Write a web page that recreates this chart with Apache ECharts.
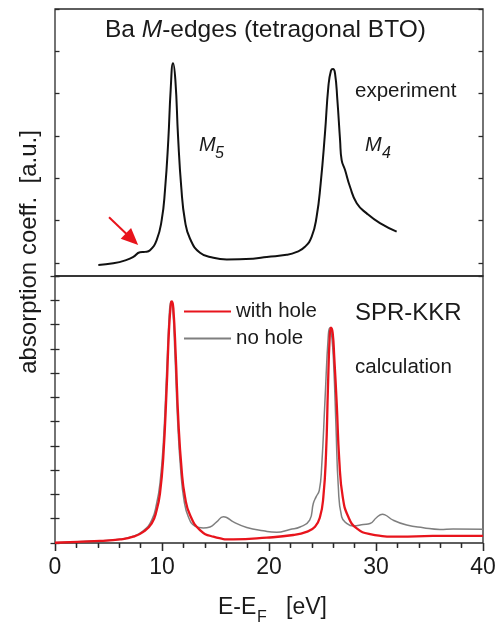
<!DOCTYPE html>
<html><head><meta charset="utf-8">
<script src="https://cdn.jsdelivr.net/npm/echarts@6/dist/echarts.min.js"></script>
<style>html,body{margin:0;padding:0;background:#fff}#c{width:499px;height:623px}</style>
</head><body><div id="c"></div>
<script>
// ---- data ----
const xTicks = [0, 10, 20, 30, 40];
const expX = [4.05,5.45,6.7,7.32,7.94,8.41,8.88,9.5,9.97,10.28,10.59,10.81,11.03,11.25,11.5,11.8,12.15,12.62,13.55,14.8,16.05,18.5,19.8,21.65,22.6,23.36,23.99,24.45,24.83,25.23,25.55,25.79,25.98,26.17,26.39,26.64,26.79,27.1,27.57,28.2,29.13,30.37,31.93];
const expY = [0.26,0.30,0.38,0.45,0.56,0.57,0.61,0.85,1.32,2.03,3.22,4.4,5.03,4.63,3.3,2.1,1.3,0.88,0.55,0.43,0.39,0.41,0.45,0.5,0.57,0.69,0.93,1.40,2.19,3.37,4.48,4.85,4.89,4.79,4.16,3.22,2.74,2.51,2.11,1.72,1.48,1.25,1.05];
const holeX = [0,4.2,6.07,7.32,8.25,9.04,9.5,9.81,10.12,10.44,10.65,10.84,10.93,11.06,11.28,11.53,11.84,12.15,12.62,13.55,14.8,16.67,19.8,22.27,23.5,24.3,24.77,25.08,25.33,25.51,25.67,25.79,25.95,26.1,26.33,26.57,26.89,27.41,28.2,29.44,32.2,35.3,40];
const holeY = [0.01,0.09,0.15,0.26,0.46,0.81,1.35,2.04,3.54,6.41,8.73,9.89,9.95,9.68,7.77,5.04,2.99,1.90,1.15,0.53,0.26,0.15,0.22,0.33,0.46,0.67,1.08,1.90,3.68,6.41,8.46,8.87,8.66,7.64,5.73,3.4,1.90,1.08,0.6,0.37,0.26,0.29,0.29];
const noHoleX = [0,4.2,6.07,7.32,8.25,9.04,9.5,9.81,10.12,10.44,10.68,10.84,11.0,11.21,11.46,11.75,12.06,12.46,13.08,13.86,14.49,15.11,15.73,16.04,16.67,17.92,19.47,20.72,21.96,22.9,23.8,24.14,24.4,24.7,24.92,25.23,25.55,25.7,25.85,26.05,26.26,26.48,26.79,27.26,27.88,28.82,29.44,30.06,30.6,30.84,31.6,32.87,34.42,35.98,37.2,40];
const noHoleY = [0.01,0.09,0.15,0.28,0.5,0.94,1.63,2.45,4.09,7.09,9.41,9.95,9.68,7.77,5.04,2.99,1.76,1.08,0.7,0.62,0.66,0.87,1.08,1.05,0.87,0.64,0.5,0.44,0.56,0.66,0.94,1.63,1.9,2.17,3.13,5.86,8.6,8.87,8.6,7.3,4.8,2.3,1.08,0.81,0.70,0.76,0.80,1.05,1.18,1.16,0.94,0.74,0.63,0.56,0.58,0.57];
const arrowFrom = [5.05, 1.39];
const arrowTo = [7.2, 0.87];
const seriesNames = ['experiment', 'with hole', 'no hole'];

const zip = (xs, ys) => xs.map((x, i) => [x, ys[i]]);
const FONT = 'Liberation Sans, Arial, Helvetica, sans-serif';
const INK = '#1a1a1a';
const AX = '#2a2a2a';
const RED = '#e8141c';
const GRAY = '#7f7f7f';

const tickStyle = {color: AX, width: 1.3};
function tickAxisY(grid, pos, max, inverse) {
  return {gridIndex: grid, type: 'value', position: pos, min: 0, max: max, interval: 1, inverse: inverse,
    axisLine: {show: false}, axisLabel: {show: false}, splitLine: {show: false},
    axisTick: {show: true, inside: true, length: 4.5, lineStyle: tickStyle}};
}

const chart = echarts.init(document.getElementById('c'), null, {renderer: 'canvas'});
chart.setOption({
  animation: false,
  backgroundColor: '#fff',
  grid: [
    {left: 55, top: 9, width: 428, height: 267, show: true, borderColor: AX, borderWidth: 1.3, backgroundColor: 'transparent'},
    {left: 55, top: 276, width: 428, height: 267, show: true, borderColor: AX, borderWidth: 1.3, backgroundColor: 'transparent'}
  ],
  xAxis: [
    {gridIndex: 0, type: 'value', min: 0, max: 40, show: false},
    {gridIndex: 1, type: 'value', min: 0, max: 40, interval: 10, position: 'bottom',
      axisLine: {show: false}, splitLine: {show: false},
      axisTick: {show: true, inside: false, length: 8, lineStyle: tickStyle},
      minorTick: {show: true, splitNumber: 5, length: 4.5, lineStyle: tickStyle},
      axisLabel: {fontSize: 23, color: INK, fontFamily: FONT, margin: 13,
        formatter: v => xTicks.includes(v) ? String(v) : ''}},
    {gridIndex: 1, type: 'value', min: 0, max: 40, interval: 10, position: 'top',
      axisLine: {show: false}, splitLine: {show: false}, axisLabel: {show: false},
      axisTick: {show: true, inside: true, length: 8, lineStyle: tickStyle},
      minorTick: {show: true, splitNumber: 5, length: 5, lineStyle: tickStyle}}
  ],
  yAxis: [
    {gridIndex: 0, type: 'value', min: 0, max: 6.31, show: false},
    tickAxisY(0, 'left', 6.31, true),
    tickAxisY(0, 'right', 6.31, true),
    tickAxisY(1, 'left', 11, false),
    tickAxisY(1, 'right', 11, false)
  ],
  legend: {
    data: [seriesNames[1], seriesNames[2]], orient: 'vertical', left: 184, top: 301, padding: 0,
    itemWidth: 47, itemHeight: 2, itemGap: 6, icon: 'rect',
    textStyle: {fontSize: 20.5, color: INK, fontFamily: FONT, lineHeight: 20}
  },
  series: [
    {name: seriesNames[0], type: 'line', xAxisIndex: 0, yAxisIndex: 0, data: zip(expX, expY),
      showSymbol: false, smooth: 0.5, lineStyle: {color: '#111', width: 2}, itemStyle: {color: '#111'},
      markLine: {silent: true, symbol: ['none', 'triangle'], symbolSize: [15, 17],
        lineStyle: {color: RED, width: 2, type: 'solid'}, itemStyle: {color: RED},
        label: {show: false}, emphasis: {disabled: true},
        data: [[{coord: arrowFrom}, {coord: arrowTo}]]}},
    {name: seriesNames[2], type: 'line', xAxisIndex: 1, yAxisIndex: 3, data: zip(noHoleX, noHoleY),
      showSymbol: false, smooth: 0.5, lineStyle: {color: GRAY, width: 1.5}, itemStyle: {color: GRAY}, z: 2},
    {name: seriesNames[1], type: 'line', xAxisIndex: 1, yAxisIndex: 3, data: zip(holeX, holeY),
      showSymbol: false, smooth: 0.5, lineStyle: {color: RED, width: 2.3}, itemStyle: {color: RED}, z: 3}
  ],
  graphic: [
    {type: 'text', left: 105, top: 18, style: {text: '{a|Ba }{b|M}{a|-edges (tetragonal BTO)}',
      rich: {a: {fontSize: 24.5, fontFamily: FONT, fill: INK}, b: {fontSize: 24.5, fontFamily: FONT, fill: INK, fontStyle: 'italic'}}}},
    {type: 'text', x: 355, y: 91, style: {text: 'experiment', font: '20.5px ' + FONT, fill: INK, verticalAlign: 'middle'}},
    {type: 'text', x: 199, y: 145, style: {text: 'M', font: 'italic 20px ' + FONT, fill: INK, verticalAlign: 'middle'}},
    {type: 'text', x: 215, y: 154, style: {text: '5', font: 'italic 16px ' + FONT, fill: INK, verticalAlign: 'middle'}},
    {type: 'text', x: 365, y: 145, style: {text: 'M', font: 'italic 20px ' + FONT, fill: INK, verticalAlign: 'middle'}},
    {type: 'text', x: 382, y: 154, style: {text: '4', font: 'italic 16px ' + FONT, fill: INK, verticalAlign: 'middle'}},
    {type: 'text', x: 355, y: 313, style: {text: 'SPR-KKR', font: '24px ' + FONT, fill: INK, verticalAlign: 'middle'}},
    {type: 'text', x: 355, y: 367, style: {text: 'calculation', font: '20.5px ' + FONT, fill: INK, verticalAlign: 'middle'}},
    {type: 'text', x: 29, y: 252, rotation: Math.PI / 2, style: {text: 'absorption coeff.  [a.u.]', font: '24px ' + FONT, fill: INK, align: 'center', verticalAlign: 'middle'}},
    {type: 'text', x: 218, y: 608, style: {text: 'E-E', font: '23px ' + FONT, fill: INK, verticalAlign: 'middle'}},
    {type: 'text', x: 257, y: 618, style: {text: 'F', font: '16px ' + FONT, fill: INK, verticalAlign: 'middle'}},
    {type: 'text', x: 286, y: 608, style: {text: '[eV]', font: '23px ' + FONT, fill: INK, verticalAlign: 'middle'}}
  ]
});
</script>
</body></html>
